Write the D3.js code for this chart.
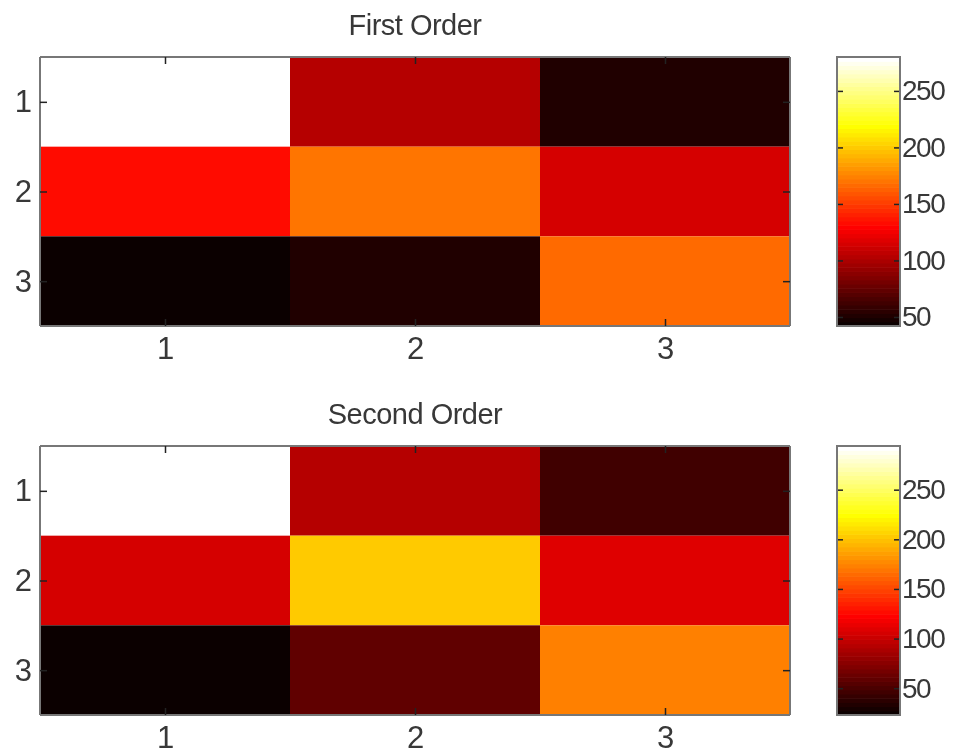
<!DOCTYPE html>
<html>
<head>
<meta charset="utf-8">
<script src="https://cdn.jsdelivr.net/npm/d3@7"></script>
<style>
  body { margin: 0; background: #fff; }
  svg { display: block; filter: blur(0.5px); }
  text { font-family: "Liberation Sans", Arial, sans-serif; fill: #383838; }
  .domain { stroke: #777; stroke-width: 2; }
  .tick line { stroke: #222; stroke-width: 1.5; }
</style>
</head>
<body>
<div id="chart"></div>
<script>
// matrix indices
const rows = [1, 2, 3];
const cols = [1, 2, 3];

// values (row by row)
const firstOrder = [
  [280, 103, 51],
  [133, 170, 114],
  [42, 52, 167]
];
const secondOrder = [
  [294, 93, 46],
  [105, 203, 110],
  [23, 59, 173]
];

const titles = ["First Order", "Second Order"];
const colorbarTicks = [50, 100, 150, 200, 250];

// MATLAB hot(64)
const hotColors = d3.range(64).map(i => {
  const k = i + 1, m = 24;
  const r = Math.min(1, k / m);
  const g = Math.max(0, Math.min(1, (k - m) / m));
  const b = Math.max(0, Math.min(1, (k - 2 * m) / 16));
  return d3.rgb(r * 255, g * 255, b * 255).formatHex();
});

const width = 957, height = 756;
const svg = d3.select("#chart").append("svg")
    .attr("width", width)
    .attr("height", height);

const panels = [
  { data: firstOrder, title: titles[0], top: 57 },
  { data: secondOrder, title: titles[1], top: 446 }
];
const left = 40, right = 790, plotH = 269;
const cbLeft = 837, cbRight = 900;

panels.forEach(p => {
  const g = svg.append("g");
  const x = d3.scaleBand().domain(cols).range([left, right]);
  const y = d3.scaleBand().domain(rows).range([p.top, p.top + plotH]);

  const flat = p.data.flat();
  const color = d3.scaleQuantize()
      .domain(d3.extent(flat))
      .range(hotColors);

  const cells = [];
  p.data.forEach((row, i) => row.forEach((v, j) => cells.push({ r: rows[i], c: cols[j], v })));

  g.selectAll("rect.cell")
    .data(cells)
    .enter().append("rect")
      .attr("class", "cell")
      .attr("x", d => x(d.c))
      .attr("y", d => y(d.r))
      .attr("width", x.bandwidth())
      .attr("height", y.bandwidth())
      .attr("fill", d => color(d.v));

  const xc = d3.scalePoint().domain(cols).range([left + x.bandwidth() / 2, right - x.bandwidth() / 2]);
  const yc = d3.scalePoint().domain(rows).range([p.top + y.bandwidth() / 2, p.top + plotH - y.bandwidth() / 2]);

  const fs = 31;
  g.append("g")
      .attr("transform", `translate(0,${p.top + plotH})`)
      .call(d3.axisBottom(xc).tickSize(-7).tickSizeOuter(0).tickPadding(11))
      .call(a => a.select(".domain").attr("d", `M${left},0H${right}`))
      .selectAll("text").attr("font-size", fs);
  g.append("g")
      .attr("transform", `translate(0,${p.top})`)
      .call(d3.axisTop(xc).tickSize(-7).tickSizeOuter(0).tickFormat(""))
      .call(a => a.select(".domain").attr("d", `M${left},0H${right}`));
  g.append("g")
      .attr("transform", `translate(${left},0)`)
      .call(d3.axisLeft(yc).tickSize(-7).tickSizeOuter(0).tickPadding(8))
      .call(a => a.select(".domain").attr("d", `M0,${p.top}V${p.top + plotH}`))
      .selectAll("text").attr("font-size", fs);
  g.append("g")
      .attr("transform", `translate(${right},0)`)
      .call(d3.axisRight(yc).tickSize(-7).tickSizeOuter(0).tickFormat(""))
      .call(a => a.select(".domain").attr("d", `M0,${p.top}V${p.top + plotH}`));
  g.selectAll(".domain").attr("fill", "none");

  g.append("text")
      .attr("x", (left + right) / 2)
      .attr("y", p.top - 22)
      .attr("text-anchor", "middle")
      .attr("font-size", 29)
      .attr("letter-spacing", -0.5)
      .text(p.title);

  // colorbar
  const cy = d3.scaleLinear().domain(color.domain()).range([p.top + plotH, p.top]);
  const steps = color.thresholds();
  const bounds = [color.domain()[0], ...steps, color.domain()[1]];
  g.selectAll("rect.cb")
    .data(hotColors)
    .enter().append("rect")
      .attr("class", "cb")
      .attr("x", cbLeft)
      .attr("width", cbRight - cbLeft)
      .attr("y", (d, i) => cy(bounds[i + 1]))
      .attr("height", (d, i) => cy(bounds[i]) - cy(bounds[i + 1]) + 0.6)
      .attr("fill", d => d);

  g.append("g")
      .attr("transform", `translate(${cbRight},0)`)
      .call(d3.axisRight(cy).tickValues(colorbarTicks).tickSize(-6).tickSizeOuter(0).tickPadding(2))
      .call(a => a.select(".domain").attr("d", `M0,${p.top}V${p.top + plotH}`))
      .selectAll("text").attr("font-size", 28).attr("letter-spacing", -1.5);
  g.append("g")
      .attr("transform", `translate(${cbLeft},0)`)
      .call(d3.axisLeft(cy).tickValues(colorbarTicks).tickSize(-6).tickSizeOuter(0).tickFormat(""))
      .call(a => a.select(".domain").attr("d", `M0,${p.top}V${p.top + plotH}`));
  g.append("rect")
      .attr("x", cbLeft).attr("y", p.top)
      .attr("width", cbRight - cbLeft).attr("height", plotH)
      .attr("fill", "none").attr("stroke", "#777").attr("stroke-width", 2);
  g.selectAll(".domain").attr("fill", "none");
});
</script>
</body>
</html>
